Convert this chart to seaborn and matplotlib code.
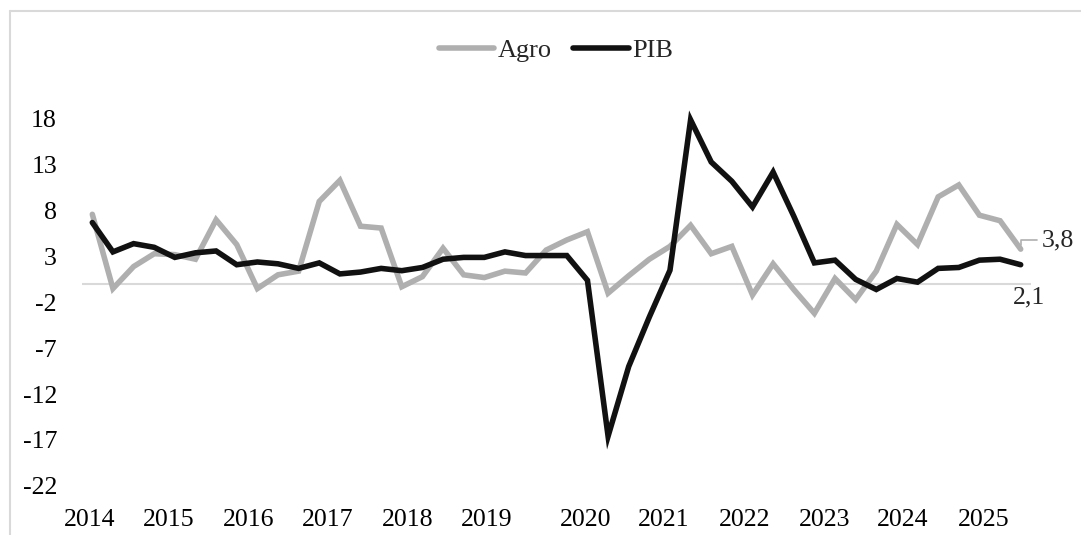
import numpy as np
import pandas as pd
import matplotlib
matplotlib.use('Agg')
import matplotlib.pyplot as plt
import seaborn as sns

# quarterly growth, 2014T1 .. 2025T2
quarters = [f"{y}T{q}" for y in range(2014, 2026) for q in range(1, 5)][:46]

agro = [7.6, -0.5, 1.9, 3.3, 3.2, 2.7, 7.0, 4.3, -0.5, 1.0, 1.4, 9.0,
        11.3, 6.3, 6.1, -0.3, 0.8, 3.9, 1.0, 0.7, 1.4, 1.2, 3.7, 4.8,
        5.7, -1.0, 0.9, 2.7, 4.1, 6.4, 3.3, 4.1, -1.2, 2.2, -0.6, -3.2,
        0.6, -1.7, 1.4, 6.5, 4.3, 9.5, 10.8, 7.5, 6.9, 3.8]

pib = [6.7, 3.5, 4.4, 4.0, 2.9, 3.4, 3.6, 2.1, 2.4, 2.2, 1.7, 2.3,
       1.1, 1.3, 1.7, 1.45, 1.8, 2.7, 2.9, 2.9, 3.5, 3.1, 3.1, 3.1,
       0.4, -16.6, -9.0, -3.6, 1.5, 17.9, 13.3, 11.2, 8.4, 12.2, 7.4, 2.3,
       2.6, 0.5, -0.6, 0.6, 0.2, 1.7, 1.8, 2.6, 2.7, 2.1]

year_labels = [str(y) for y in range(2014, 2026)]
year_label_pos = [-0.15, 3.7, 7.6, 11.4, 15.3, 19.1, 23.9, 27.7, 31.6, 35.5, 39.3, 43.2]   # where the year labels sit (in quarters)

df = pd.DataFrame({'idx': np.arange(len(quarters)), 'trimestre': quarters, 'Agro': agro, 'PIB': pib})
df = df.melt(id_vars=['idx', 'trimestre'], var_name='serie', value_name='valor')

sns.set_style('white')
plt.rcParams['font.family'] = ['Liberation Serif', 'DejaVu Serif']
plt.rcParams['axes.unicode_minus'] = False          # plain hyphen for negatives, like the original

W, H = 1081, 535
fig = plt.figure(figsize=(W/100, H/100), dpi=100)
ax = fig.add_axes([82/W, (H-485.7)/H, (1031-82)/W, 385.1/H])

ax.axhline(0, color='#D9D9D9', lw=1.5, zorder=1)                       # zero line
sns.lineplot(data=df, x='idx', y='valor', hue='serie', palette={'Agro': '#AFAFAF', 'PIB': '#111111'},
             linewidth=4, sort=False, ax=ax, legend=False, zorder=3)
for l in ax.lines[1:]:
    l.set_solid_capstyle('round')
    l.set_solid_joinstyle('miter')

ax.set_xlim(-0.5, len(quarters)-0.5)
ax.set_ylim(-22, 20)
ax.set_yticks(range(-22, 19, 5))
ax.set_xticks(year_label_pos)
ax.set_xticklabels(year_labels)
ax.set_xlabel('')
ax.set_ylabel('')
ax.tick_params(axis='both', length=0, labelsize=18.6, colors='#000000')
ax.tick_params(axis='x', pad=17)
ax.tick_params(axis='y', pad=18)
for s in ax.spines.values():
    s.set_visible(False)

# end-of-series data labels
ax.annotate(f"{agro[-1]:.1f}".replace('.', ','), xy=(len(agro)-1, agro[-1]), xytext=(15, 6.5),
            textcoords='offset points', ha='left', va='center', fontsize=18.6,
            arrowprops=dict(arrowstyle='-', color='#AFAFAF', lw=1.2, shrinkA=1, shrinkB=3,
                            connectionstyle='angle,angleA=0,angleB=90,rad=0'))
ax.annotate(f"{pib[-1]:.1f}".replace('.', ','), xy=(len(pib)-1, pib[-1]), xytext=(5.8, -23.8),
            textcoords='offset points', ha='center', va='center', fontsize=18.6)

# legend on top
handles = [plt.Line2D([], [], color='#AFAFAF', lw=4, solid_capstyle='round'),
           plt.Line2D([], [], color='#111111', lw=4, solid_capstyle='round')]
fig.legend(handles, ['Agro', 'PIB'], loc='center', bbox_to_anchor=(556/W, (H-50)/H), ncol=2,
           frameon=False, fontsize=19, handlelength=2.1, handletextpad=0.15, columnspacing=0.8)

# chart area border (left and top visible)
fig.add_artist(plt.Line2D([10/W, 10/W], [0, (H-11)/H], transform=fig.transFigure, color='#D9D9D9', lw=1.5))
fig.add_artist(plt.Line2D([10/W, 1], [(H-11)/H, (H-11)/H], transform=fig.transFigure, color='#D9D9D9', lw=1.5))

fig.savefig('out.png', dpi=100)
